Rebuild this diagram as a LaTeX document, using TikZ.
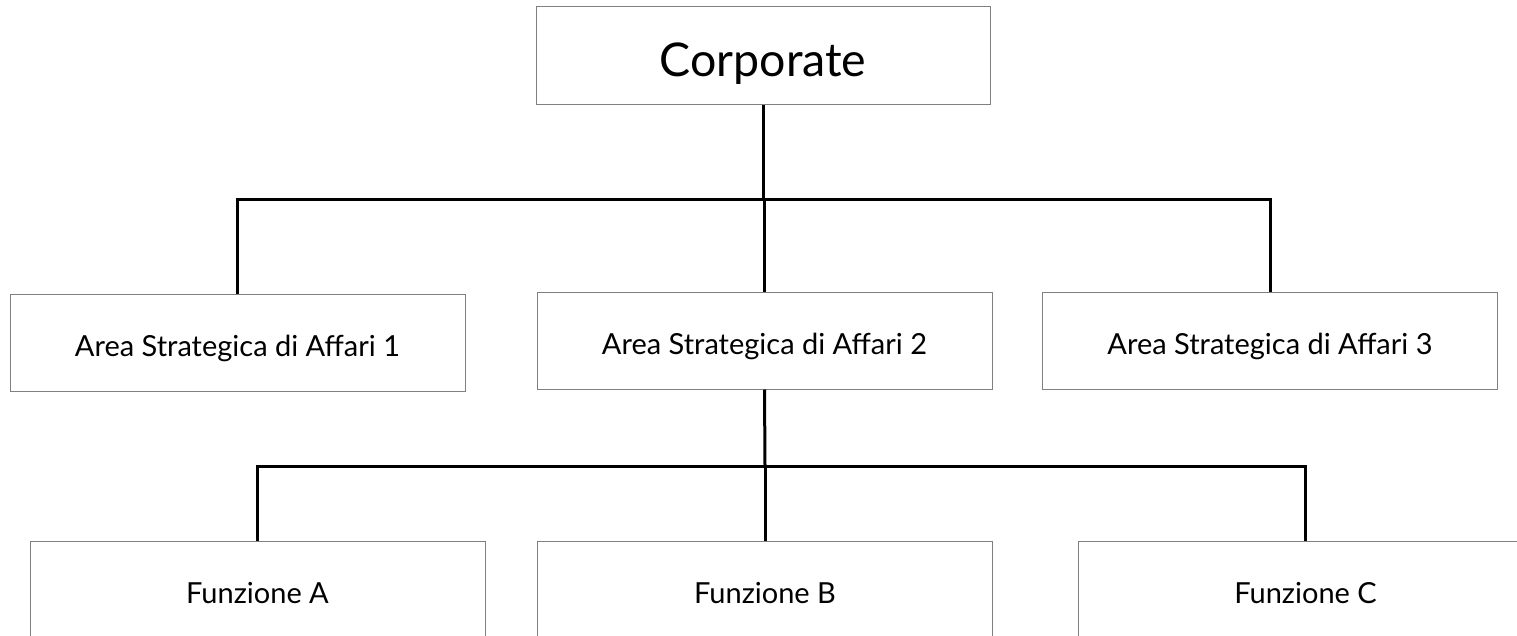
\documentclass[tikz,border=0pt]{standalone}
\usepackage{fontspec}
\setmainfont{Lato}
\begin{document}
\begin{tikzpicture}[x=1pt,y=-1pt,
  orgbox/.style={draw=black!50, line width=1pt, minimum width=455pt, minimum height=97pt, inner sep=0pt},
  link/.style={draw=black, line width=3pt},
  toptext/.style={font=\fontsize{46.5}{52}\selectfont, text height=42pt, text depth=0pt},
  midtext/.style={font=\fontsize{29}{34}\selectfont, text height=27pt, text depth=0pt},
  lowtext/.style={font=\fontsize{29}{34}\selectfont, text height=27pt, text depth=0pt}]
  \useasboundingbox (0,0) rectangle (1517,636);
  \clip (0,0) rectangle (1517,636);

  % top level
  \node[orgbox, minimum width=454pt, minimum height=98pt, toptext] (corp) at (763,56) {Corporate};

  % strategic business areas
  \node[orgbox, midtext] (asa1) at (237.5,342.5) {Area Strategica di Affari 1};
  \node[orgbox, midtext] (asa2) at (764.5,340.5) {Area Strategica di Affari 2};
  \node[orgbox, midtext] (asa3) at (1270,341)   {Area Strategica di Affari 3};

  % functions under area 2
  \node[orgbox, lowtext] (funA) at (257.5,589.5) {Funzione A};
  \node[orgbox, lowtext] (funB) at (765,589.5)   {Funzione B};
  \node[orgbox, lowtext] (funC) at (1305.5,589.5) {Funzione C};

  % connectors from the corporate box
  \coordinate (j1) at (763,200);
  \draw[link] (corp.south) -- (j1);
  \draw[link] (asa1.north) |- (j1) -| (asa3.north);
  \draw[link] (j1) -- (j1 -| asa2.north) -- (asa2.north);

  % connectors from area 2
  \coordinate (j2) at (765,466);
  \draw[link] (asa2.south) -- (j2);
  \draw[link] (funA.north) |- (j2) -| (funC.north);
  \draw[link] (j2) -- (funB.north);
\end{tikzpicture}
\end{document}
